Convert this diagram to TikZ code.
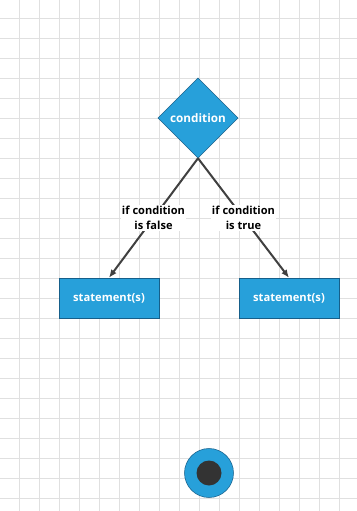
\documentclass[tikz,border=0pt]{standalone}
\usepackage{fontspec}
\setmainfont{Open Sans}
\usetikzlibrary{arrows.meta,positioning,shapes.geometric}
\definecolor{flowblue}{RGB}{39,160,218}
\definecolor{flowedge}{RGB}{22,95,138}
\definecolor{arrowgray}{RGB}{64,64,64}
\definecolor{gridgray}{RGB}{224,224,224}
\definecolor{darkdot}{RGB}{51,51,51}

\begin{document}
\begin{tikzpicture}[
  x=0.75pt, y=-0.75pt,
  decision/.style={diamond, draw=flowedge, fill=flowblue, minimum width=60pt, minimum height=60pt, inner sep=0pt, text=white, font=\bfseries\fontsize{8.8}{10}\selectfont},
  block/.style={rectangle, draw=flowedge, fill=flowblue, minimum width=75pt, minimum height=30pt, text=white, font=\bfseries\fontsize{8.4}{9}\selectfont},
  arrow/.style={-{Latex[length=6pt, width=5pt]}, draw=arrowgray, line width=1.5pt},
  lbl/.style={fill=white, inner sep=1pt, align=center, font=\bfseries\fontsize{8.3}{11.5}\selectfont},
  gridline/.style={draw=gridgray, line width=0.75pt}
]
\useasboundingbox (0,0) rectangle (357,511);
\fill[white] (0,0) rectangle (357,511);

% background grid
\foreach \gx in {19,39,...,359} \draw[gridline] (\gx,0) -- (\gx,511);
\foreach \gy in {18,38,...,511} \draw[gridline] (0,\gy) -- (357,\gy);

\node[decision] (cond) at (198,118) {condition};
\node[block] (stfalse) at (109,298) {statement(s)};
\node[block] (sttrue) at (289,298) {statement(s)};

\draw[arrow] (cond.south) -- (stfalse.north) node[lbl, midway] {if condition\\is false};
\draw[arrow] (cond.south) -- (sttrue.north) node[lbl, midway] {if condition\\is true};

% final state
\node[circle, draw=flowedge, fill=flowblue, minimum size=36.75pt, inner sep=0pt] (final) at (209,473) {};
\node[circle, fill=darkdot, minimum size=18.75pt, inner sep=0pt] (finaldot) at (final.center) {};

\end{tikzpicture}
\end{document}
